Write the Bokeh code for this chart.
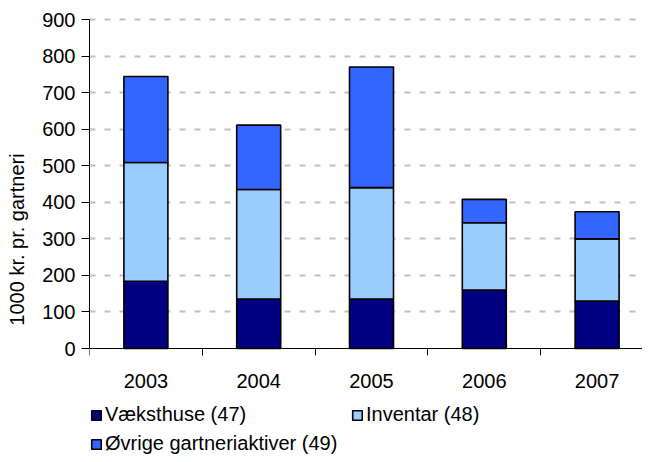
from bokeh.plotting import figure
from bokeh.models import ColumnDataSource, FixedTicker, Legend, LegendItem
from bokeh.embed import file_html
from bokeh.resources import INLINE

years = ["2003", "2004", "2005", "2006", "2007"]
vaeksthuse = [184, 135, 135, 160, 130]
inventar = [325, 300, 305, 184, 170]
oevrige = [235, 176, 330, 64, 74]
series_names = ["Væksthuse (47)", "Inventar (48)", "Øvrige gartneriaktiver (49)"]
colors = ["#000080", "#99CCFF", "#3366FF"]
y_ticks = list(range(0, 1000, 100))

xs = list(range(1, len(years) + 1))
src = ColumnDataSource(dict(x=xs, v=vaeksthuse, i=inventar, o=oevrige))

FONT = "Liberation Sans"

# frame geometry (pixels)
FW, FH = 553, 444
PX_PER_UNIT = 329 / 900
CAT_PX = 112.8
y_end = 905.5
y_start = y_end - FH / PX_PER_UNIT

p = figure(frame_width=FW, frame_height=FH,
           x_range=(0.5, 0.5 + FW / CAT_PX), y_range=(y_start, y_end),
           output_backend="svg", toolbar_location=None,
           min_border_top=17, min_border_right=0, min_border_left=89, min_border_bottom=0)
p.outline_line_color = None

renderers = p.vbar_stack(["v", "i", "o"], x="x", width=0.39, color=colors,
                         line_color="black", line_width=1.6, source=src)

p.xgrid.visible = False
p.ygrid.ticker = FixedTicker(ticks=y_ticks[1:])
p.ygrid.grid_line_color = "#c0c0c0"
p.ygrid.grid_line_width = 2
p.ygrid.grid_line_dash = "6 9"

p.yaxis.ticker = FixedTicker(ticks=y_ticks)
p.yaxis.bounds = (0, 900)
p.yaxis.axis_label = "1000 kr. pr. gartneri"
p.yaxis.axis_label_text_font = FONT
p.yaxis.axis_label_text_font_style = "normal"
p.yaxis.axis_label_text_font_size = "20px"
p.yaxis.axis_label_text_color = "black"
p.yaxis.axis_label_standoff = 11
p.yaxis.major_label_text_font = FONT
p.yaxis.major_label_text_font_size = "20px"
p.yaxis.major_label_text_color = "black"
p.yaxis.major_tick_out = 8
p.yaxis.major_tick_in = 0
p.yaxis.minor_tick_out = 0
p.yaxis.major_label_standoff = 6
p.yaxis.axis_line_color = "black"
p.yaxis.major_tick_line_color = "black"

p.xaxis.fixed_location = 0
p.xaxis.ticker = FixedTicker(ticks=xs, minor_ticks=[x - 0.5 for x in xs] + [xs[-1] + 0.5])
p.xaxis.major_label_overrides = {x: y for x, y in zip(xs, years)}
p.xaxis.major_tick_out = 0
p.xaxis.major_tick_in = 0
p.xaxis.minor_tick_out = 7
p.xaxis.minor_tick_in = 0
p.xaxis.minor_tick_line_color = "black"
p.xaxis.major_label_text_font = FONT
p.xaxis.major_label_text_font_size = "20px"
p.xaxis.major_label_text_color = "black"
p.xaxis.major_label_standoff = 18
p.xaxis.axis_line_color = "black"

items = [LegendItem(label=n, renderers=[r]) for n, r in zip(series_names, renderers)]
common = dict(label_text_font=FONT, label_text_font_size="20px", label_text_color="black",
              glyph_width=12, glyph_height=12, label_standoff=3,
              label_height=20, padding=0, margin=0,
              border_line_color=None, background_fill_alpha=0)
legend1 = Legend(items=items[:2], orientation="horizontal", location=(1, 35),
                 label_width=238, spacing=8, **common)
legend2 = Legend(items=items[2:], orientation="horizontal", location=(1, 6), **common)
p.add_layout(legend1, "center")
p.add_layout(legend2, "center")

open("out.html", "w").write(file_html(p, INLINE))
